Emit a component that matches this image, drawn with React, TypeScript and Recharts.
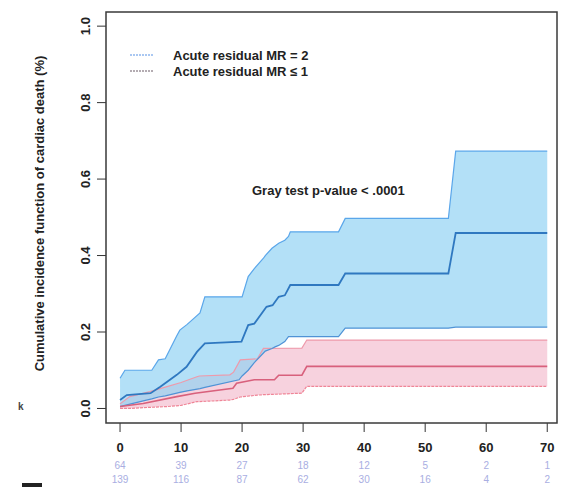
import { Area, ComposedChart, Line, XAxis, YAxis } from "recharts";

// MR = 2 confidence band
const mr2BandTime = [0, 0.8, 3.8, 5.2, 6.3, 7.4, 9.3, 9.8, 11, 13.1, 13.9, 19.5, 20, 21, 22, 23.5, 23.8, 24.9, 25.4, 26, 27, 27.6, 27.9, 35.8, 36.9, 53.8, 55, 70];
const mr2Upper = [0.079, 0.1, 0.1, 0.1, 0.127, 0.13, 0.19, 0.205, 0.22, 0.25, 0.292, 0.292, 0.292, 0.345, 0.366, 0.393, 0.4, 0.419, 0.425, 0.432, 0.44, 0.45, 0.462, 0.462, 0.497, 0.497, 0.673, 0.673];
const mr2Lower = [0.005, 0.008, 0.02, 0.025, 0.03, 0.033, 0.04, 0.042, 0.046, 0.052, 0.055, 0.075, 0.085, 0.1, 0.12, 0.145, 0.15, 0.157, 0.161, 0.165, 0.175, 0.188, 0.188, 0.188, 0.21, 0.21, 0.213, 0.213];
// MR = 2 estimate
const mr2Time = [0, 1.1, 5, 6.6, 9.3, 10.9, 12.6, 13.9, 19.9, 21, 22, 24, 25, 26, 27, 27.9, 35.8, 36.9, 53.8, 55, 70];
const mr2Est = [0.022, 0.035, 0.04, 0.057, 0.088, 0.109, 0.148, 0.17, 0.175, 0.218, 0.222, 0.266, 0.27, 0.292, 0.296, 0.323, 0.323, 0.353, 0.353, 0.459, 0.459];

// MR <= 1 confidence band
const mr1BandTime = [0, 1.6, 4.9, 7.7, 10, 12.6, 13, 18, 18.6, 19.7, 22.5, 23.5, 29.8, 30.6, 70];
const mr1Upper = [0.012, 0.031, 0.044, 0.057, 0.068, 0.083, 0.085, 0.088, 0.095, 0.127, 0.13, 0.157, 0.158, 0.179, 0.179];
const mr1Lower = [0, 0, 0.003, 0.005, 0.008, 0.018, 0.018, 0.022, 0.024, 0.03, 0.035, 0.036, 0.04, 0.058, 0.058];
// MR <= 1 estimate
const mr1Time = [0, 3.8, 9.3, 12.3, 18.5, 19.1, 22, 25.3, 26, 29.8, 30.6, 70];
const mr1Est = [0.005, 0.013, 0.031, 0.04, 0.053, 0.066, 0.075, 0.075, 0.087, 0.087, 0.11, 0.11];

const xTicks = [0, 10, 20, 30, 40, 50, 60, 70];
const yTicks = [0, 0.2, 0.4, 0.6, 0.8, 1.0];
const atRiskMR2 = [64, 39, 27, 18, 12, 5, 2, 1];
const atRiskMR1 = [139, 116, 87, 62, 30, 16, 4, 2];

const font = "'Liberation Sans', Arial, sans-serif";

const mr2Band = mr2BandTime.map((t, i) => ({ t, band: [mr2Lower[i], mr2Upper[i]], lo: mr2Lower[i], hi: mr2Upper[i] }));
const mr1Band = mr1BandTime.map((t, i) => ({ t, band: [mr1Lower[i], mr1Upper[i]], lo: mr1Lower[i], hi: mr1Upper[i] }));
const mr2Line = mr2Time.map((t, i) => ({ t, v: mr2Est[i] }));
const mr1Line = mr1Time.map((t, i) => ({ t, v: mr1Est[i] }));

function XTick({ x, y, payload, index }: any) {
  return (
    <g>
      <text x={x} y={y + 20} textAnchor="middle" fontFamily={font} fontWeight="bold" fontSize={13} fill="#222">
        {payload.value}
      </text>
      <text x={x} y={y + 37} textAnchor="middle" fontFamily={font} fontSize={10} fill="#a9aee2">
        {atRiskMR2[index]}
      </text>
      <text x={x} y={y + 51} textAnchor="middle" fontFamily={font} fontSize={10} fill="#a9aee2">
        {atRiskMR1[index]}
      </text>
    </g>
  );
}

function YTick({ x, y, payload }: any) {
  const cx = x - 11;
  return (
    <text x={cx} y={y} transform={`rotate(-90, ${cx}, ${y})`} textAnchor="middle" dominantBaseline="central"
      fontFamily={font} fontWeight="bold" fontSize={13} fill="#222">
      {payload.value.toFixed(1)}
    </text>
  );
}

export default function App() {
  return (
    <div style={{ position: "absolute", left: 0, top: 0, width: 564, height: 487, background: "#fff" }}>
      <ComposedChart width={564} height={487} margin={{ top: 12, right: 7, bottom: 0, left: 0 }}>
        <XAxis type="number" dataKey="t" domain={[-2.3, 71.6]} ticks={xTicks} allowDataOverflow
          axisLine={false} tickSize={9} tickMargin={0} height={64} tick={<XTick />} stroke="#333" />
        <YAxis type="number" domain={[-0.038, 1.037]} ticks={yTicks} allowDataOverflow width={106}
          axisLine={false} tickSize={9} tickMargin={0} tick={<YTick />} stroke="#333"
          label={{ value: "Cumulative incidence function of cardiac death (%)", angle: -90, position: "insideLeft",
            dx: 34, dy: -4, style: { fontFamily: font, fontWeight: "bold", fontSize: 13, fill: "#222", textAnchor: "middle" } }} />
        <Area data={mr1Band} dataKey="band" type="linear" stroke="none" fill="#f4bfd0" fillOpacity={0.7} isAnimationActive={false} />
        <Area data={mr2Band} dataKey="band" type="linear" stroke="none" fill="#8fd2f3" fillOpacity={0.68} isAnimationActive={false} />
        <Line data={mr1Band} dataKey="hi" type="linear" stroke="#ee9aab" strokeWidth={1.2} dot={false} isAnimationActive={false} />
        <Line data={mr1Band} dataKey="lo" type="linear" stroke="#ef8597" strokeWidth={1.2} strokeDasharray="3 1" dot={false} isAnimationActive={false} />
        <Line data={mr2Band} dataKey="hi" type="linear" stroke="#5aa6ea" strokeWidth={1.2} dot={false} isAnimationActive={false} />
        <Line data={mr2Band} dataKey="lo" type="linear" stroke="#4f93d6" strokeWidth={1.2} dot={false} isAnimationActive={false} />
        <Line data={mr1Line} dataKey="v" type="linear" stroke="#d8607c" strokeWidth={1.6} dot={false} isAnimationActive={false} />
        <Line data={mr2Line} dataKey="v" type="linear" stroke="#2f78c0" strokeWidth={1.8} dot={false} isAnimationActive={false} />
      </ComposedChart>
      <svg width={564} height={487} style={{ position: "absolute", left: 0, top: 0, pointerEvents: "none" }}>
        <rect x={106} y={12} width={451} height={411} fill="none" stroke="#3a3a3a" strokeWidth={1.5} />
        <line x1={130} x2={153} y1={55} y2={55} stroke="#8fb6ee" strokeWidth={1.5} strokeDasharray="2 1" />
        <line x1={130} x2={153} y1={71} y2={71} stroke="#6a5a66" strokeWidth={1.2} strokeDasharray="2 1" />
        <text x={173} y={60} fontFamily={font} fontWeight="bold" fontSize={13} fill="#222">Acute residual MR = 2</text>
        <text x={173} y={76} fontFamily={font} fontWeight="bold" fontSize={13} fill="#222">Acute residual MR ≤ 1</text>
        <text x={252} y={195} fontFamily={font} fontWeight="bold" fontSize={13} fill="#222">Gray test p-value &lt; .0001</text>
        <text x={18} y={410} fontFamily={font} fontWeight="bold" fontSize={10} fill="#444">k</text>
        <rect x={22} y={483} width={20} height={4} fill="#222" />
      </svg>
    </div>
  );
}
